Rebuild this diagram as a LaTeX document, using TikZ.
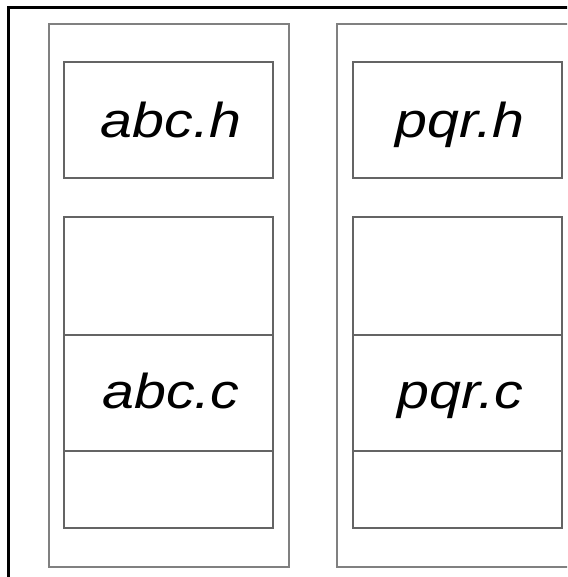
\documentclass[tikz,border=0pt]{standalone}
\usepackage{graphicx}
\usepackage{fontspec}
\setmainfont{Liberation Sans}
\definecolor{colgray}{RGB}{128,128,128}
\definecolor{boxgray}{RGB}{100,100,100}
\tikzset{
  frame/.style={draw=black, line width=2.6pt},
  colbox/.style={draw=colgray, line width=1.8pt, rectangle, inner sep=0pt, outer sep=0pt, minimum width=240pt, minimum height=543pt},
  filebox/.style={draw=boxgray, line width=1.1pt, rectangle, inner sep=0pt, outer sep=0pt, minimum width=209pt},
  fname/.style={anchor=base, inner sep=0pt, font=\fontsize{49}{58}\selectfont\itshape}
}
\newcommand{\wide}[1]{\scalebox{1.17}[1]{#1}}
\begin{document}
\begin{tikzpicture}[x=1pt,y=-1pt]
\useasboundingbox (0,0) rectangle (567,577);
\clip (0,0) rectangle (567,577);
\fill[white] (0,0) rectangle (567,577);
\draw[frame] (8.5,7.5) rectangle (590,600);
% columns
\node[colbox] (colL) at (169,295.5) {};
\node[colbox] (colR) at (457,295.5) {};
% header boxes
\node[filebox, minimum height=116pt] (hL) at (168.5,120) {};
\node[filebox, minimum height=116pt] (hR) at (457.5,120) {};
% big boxes
\node[filebox, minimum height=311pt] (bL) at (168.5,372.5) {};
\node[filebox, minimum height=311pt] (bR) at (457.5,372.5) {};
% source boxes
\node[filebox, minimum height=116pt] (cL) at (168.5,393) {};
\node[filebox, minimum height=116pt] (cR) at (457.5,393) {};
% labels
\node[fname] (tHL) at (171,138) {\wide{abc.h}};
\node[fname] (tHR) at (460,138) {\wide{pqr.h}};
\node[fname] (tCL) at (171,408) {\wide{abc.c}};
\node[fname] (tCR) at (460,408) {\wide{pqr.c}};
\end{tikzpicture}
\end{document}
